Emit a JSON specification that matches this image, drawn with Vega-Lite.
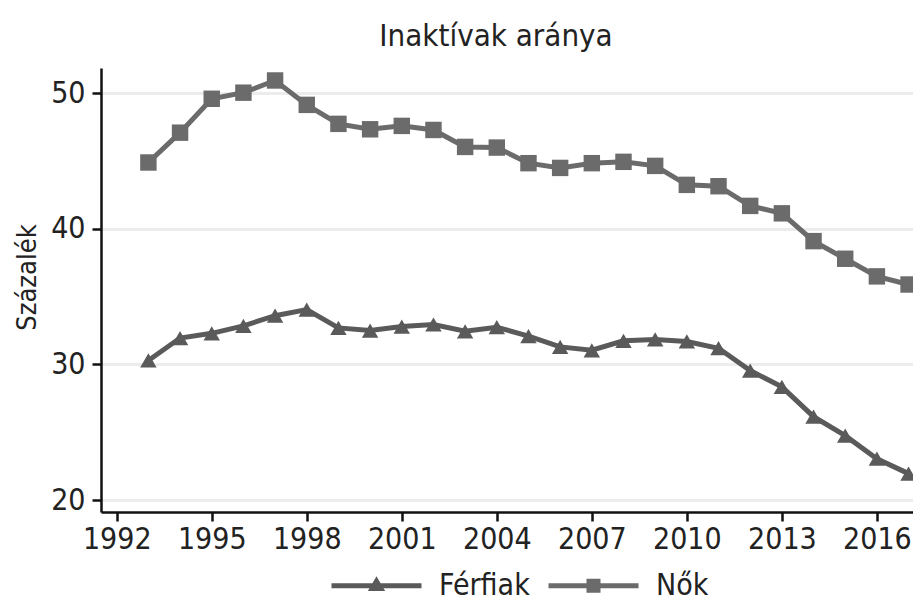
{
  "$schema": "https://vega.github.io/schema/vega-lite/v6.json",
  "width": 812,
  "height": 444,
  "autosize": {"type": "none"},
  "padding": {"left": 101, "top": 68, "right": 0, "bottom": 89},
  "background": "white",
  "title": {
    "text": "Inaktívak aránya",
    "font": "DejaVu Sans Condensed",
    "fontSize": 31,
    "fontWeight": "normal",
    "color": "#222222",
    "anchor": "middle",
    "baseline": "alphabetic",
    "offset": 21,
    "dx": -11,
    "dy": 30
  },
  "config": {
    "view": {"stroke": null},
    "font": "DejaVu Sans Condensed",
    "axis": {
      "labelFont": "DejaVu Sans Condensed",
      "titleFont": "DejaVu Sans Condensed",
      "labelColor": "#222222",
      "titleColor": "#222222",
      "domainColor": "#111111",
      "tickColor": "#111111",
      "domainWidth": 2.5,
      "tickWidth": 2.5,
      "tickSize": 9,
      "titleFontWeight": "normal"
    },
    "legend": {
      "labelFont": "DejaVu Sans Condensed"
    }
  },
  "data": {
    "values": [
      {"year": 1993, "series": "Nők", "value": 44.9},
      {"year": 1994, "series": "Nők", "value": 47.1},
      {"year": 1995, "series": "Nők", "value": 49.6},
      {"year": 1996, "series": "Nők", "value": 50.05},
      {"year": 1997, "series": "Nők", "value": 50.95},
      {"year": 1998, "series": "Nők", "value": 49.15},
      {"year": 1999, "series": "Nők", "value": 47.75},
      {"year": 2000, "series": "Nők", "value": 47.35},
      {"year": 2001, "series": "Nők", "value": 47.6},
      {"year": 2002, "series": "Nők", "value": 47.3},
      {"year": 2003, "series": "Nők", "value": 46.05},
      {"year": 2004, "series": "Nők", "value": 46.0},
      {"year": 2005, "series": "Nők", "value": 44.85},
      {"year": 2006, "series": "Nők", "value": 44.5},
      {"year": 2007, "series": "Nők", "value": 44.85},
      {"year": 2008, "series": "Nők", "value": 44.95},
      {"year": 2009, "series": "Nők", "value": 44.65},
      {"year": 2010, "series": "Nők", "value": 43.25},
      {"year": 2011, "series": "Nők", "value": 43.15},
      {"year": 2012, "series": "Nők", "value": 41.7},
      {"year": 2013, "series": "Nők", "value": 41.15},
      {"year": 2014, "series": "Nők", "value": 39.1},
      {"year": 2015, "series": "Nők", "value": 37.8},
      {"year": 2016, "series": "Nők", "value": 36.5},
      {"year": 2017, "series": "Nők", "value": 35.9},
      {"year": 1993, "series": "Férfiak", "value": 30.3},
      {"year": 1994, "series": "Férfiak", "value": 31.95},
      {"year": 1995, "series": "Férfiak", "value": 32.3},
      {"year": 1996, "series": "Férfiak", "value": 32.85},
      {"year": 1997, "series": "Férfiak", "value": 33.6},
      {"year": 1998, "series": "Férfiak", "value": 34.05},
      {"year": 1999, "series": "Férfiak", "value": 32.7},
      {"year": 2000, "series": "Férfiak", "value": 32.5},
      {"year": 2001, "series": "Férfiak", "value": 32.8},
      {"year": 2002, "series": "Férfiak", "value": 32.95},
      {"year": 2003, "series": "Férfiak", "value": 32.45},
      {"year": 2004, "series": "Férfiak", "value": 32.75},
      {"year": 2005, "series": "Férfiak", "value": 32.1},
      {"year": 2006, "series": "Férfiak", "value": 31.3},
      {"year": 2007, "series": "Férfiak", "value": 31.05},
      {"year": 2008, "series": "Férfiak", "value": 31.75},
      {"year": 2009, "series": "Férfiak", "value": 31.85},
      {"year": 2010, "series": "Férfiak", "value": 31.7},
      {"year": 2011, "series": "Férfiak", "value": 31.2},
      {"year": 2012, "series": "Férfiak", "value": 29.55},
      {"year": 2013, "series": "Férfiak", "value": 28.35},
      {"year": 2014, "series": "Férfiak", "value": 26.15},
      {"year": 2015, "series": "Férfiak", "value": 24.75},
      {"year": 2016, "series": "Férfiak", "value": 23.05},
      {"year": 2017, "series": "Férfiak", "value": 21.95}
    ]
  },
  "encoding": {
    "x": {
      "field": "year",
      "type": "quantitative",
      "scale": {"domain": [1991.504, 2017.14], "nice": false, "zero": false},
      "axis": {
        "title": null,
        "values": [1992, 1995, 1998, 2001, 2004, 2007, 2010, 2013, 2016],
        "format": "d",
        "grid": false,
        "labelFontSize": 30,
        "labelPadding": 3,
        "labelFlush": false,
        "labelOverlap": false
      }
    },
    "y": {
      "field": "value",
      "type": "quantitative",
      "scale": {"domain": [19.12, 51.87], "nice": false, "zero": false},
      "axis": {
        "title": "Százalék",
        "titleFontSize": 27,
        "titleAngle": -90,
        "titleAlign": "center",
        "titleBaseline": "middle",
        "titleX": -74,
        "titleY": 209,
        "values": [20, 30, 40, 50],
        "format": "d",
        "grid": true,
        "gridColor": "#ececec",
        "gridWidth": 3,
        "labelFontSize": 30,
        "labelPadding": 7,
        "labelFlush": false
      }
    },
    "color": {
      "field": "series",
      "type": "nominal",
      "scale": {"domain": ["Férfiak", "Nők"], "range": ["#5a5a5a", "#6b6b6b"]},
      "legend": {
        "title": null,
        "orient": "none",
        "direction": "horizontal",
        "legendX": 228,
        "legendY": 470,
        "symbolSize": 8100,
        "labelFontSize": 30,
        "labelColor": "#222222",
        "labelOffset": 15,
        "columnPadding": 8,
        "labelLimit": 300,
        "encode": {
          "symbols": {
            "update": {
              "shape": {"signal": "datum.value === 'Férfiak' ? 'M-1,0H1M0,-0.1L0.095,0.06L-0.095,0.06Z' : 'M-1,0H1M-0.1,-0.1H0.1V0.1H-0.1Z'"},
              "fill": {"signal": "datum.value === 'Férfiak' ? '#5a5a5a' : '#6b6b6b'"},
              "stroke": {"signal": "datum.value === 'Férfiak' ? '#5a5a5a' : '#6b6b6b'"},
              "strokeWidth": {"value": 5},
              "opacity": {"value": 1}
            }
          }
        }
      }
    }
  },
  "layer": [
    {
      "mark": {"type": "line", "strokeWidth": 5}
    },
    {
      "mark": {"type": "point", "filled": true, "opacity": 1, "size": 270},
      "encoding": {
        "shape": {
          "condition": {"test": "datum.series === 'Férfiak'", "value": "triangle-up"},
          "value": "square"
        }
      }
    }
  ]
}
